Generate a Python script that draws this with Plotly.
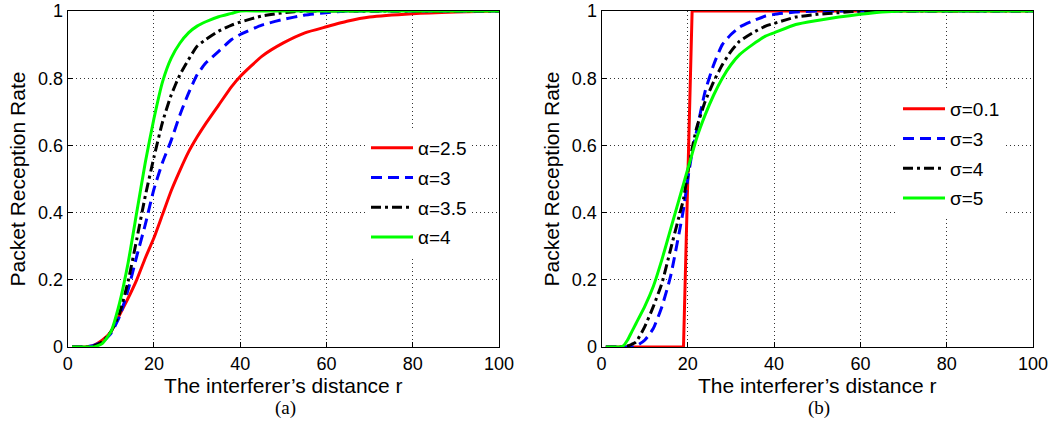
import plotly.graph_objects as go

# ---------------- data ----------------
r_a = [1, 4, 6, 8, 10, 12, 14, 16, 18, 20, 22, 24, 26, 28, 30, 32, 35, 38, 40, 45, 50, 55, 60, 65, 70, 80, 90, 100]
alpha_25 = [0, 0, 0.005, 0.02, 0.045, 0.095, 0.145, 0.20, 0.265, 0.325, 0.395, 0.465, 0.525, 0.58, 0.625, 0.665, 0.72, 0.775, 0.805, 0.865, 0.905, 0.935, 0.953, 0.97, 0.982, 0.992, 0.997, 1]
alpha_3 = [0, 0, 0.005, 0.015, 0.04, 0.09, 0.17, 0.27, 0.365, 0.47, 0.55, 0.615, 0.69, 0.755, 0.81, 0.845, 0.88, 0.915, 0.93, 0.958, 0.975, 0.988, 0.995, 1, 1, 1, 1, 1]
alpha_35 = [0, 0, 0.003, 0.015, 0.045, 0.10, 0.195, 0.32, 0.45, 0.565, 0.67, 0.75, 0.81, 0.855, 0.895, 0.915, 0.94, 0.958, 0.967, 0.985, 0.995, 1, 1, 1, 1, 1, 1, 1]
alpha_4 = [0, 0, 0, 0.01, 0.045, 0.13, 0.25, 0.40, 0.55, 0.68, 0.79, 0.86, 0.904, 0.935, 0.955, 0.968, 0.983, 0.993, 1, 1, 1, 1, 1, 1, 1, 1, 1, 1]

r_b = [1, 4, 5, 6, 7, 8, 10, 12, 14, 16, 18, 19, 20, 21, 22, 24, 26, 28, 30, 32, 35, 38, 40, 45, 50, 55, 60, 65, 70, 80, 90, 100]
sigma_01 = [0, 0, 0, 0, 0, 0, 0, 0, 0, 0, 0, 0, 0.5, 1, 1, 1, 1, 1, 1, 1, 1, 1, 1, 1, 1, 1, 1, 1, 1, 1, 1, 1]
sigma_3 = [0, 0, 0, 0, 0, 0.003, 0.02, 0.055, 0.12, 0.21, 0.34, 0.41, 0.50, 0.58, 0.64, 0.76, 0.84, 0.90, 0.93, 0.952, 0.97, 0.985, 0.99, 0.997, 1, 1, 1, 1, 1, 1, 1, 1]
sigma_4 = [0, 0, 0, 0.003, 0.008, 0.015, 0.06, 0.12, 0.19, 0.29, 0.39, 0.44, 0.52, 0.59, 0.65, 0.73, 0.79, 0.84, 0.88, 0.91, 0.935, 0.955, 0.963, 0.982, 0.99, 0.995, 1, 1, 1, 1, 1, 1]
sigma_5 = [0, 0, 0.003, 0.02, 0.045, 0.07, 0.12, 0.18, 0.26, 0.35, 0.44, 0.485, 0.53, 0.575, 0.62, 0.69, 0.75, 0.80, 0.84, 0.87, 0.90, 0.925, 0.935, 0.96, 0.972, 0.982, 0.99, 0.997, 1, 1, 1, 1]

labels_a = ["α=2.5", "α=3", "α=3.5", "α=4"]
labels_b = ["σ=0.1", "σ=3", "σ=4", "σ=5"]
x_ticks = [0, 20, 40, 60, 80, 100]
y_ticks = [0, 0.2, 0.4, 0.6, 0.8, 1]
y_tick_text = ["0", "0.2", "0.4", "0.6", "0.8", "1"]
captions = ["(a)", "(b)"]
x_title = "The interferer’s distance r"
y_title = "Packet Reception Rate"

colors = ["#ff0000", "#0000ff", "#000000", "#00ff00"]
dashes = ["solid", "11px,6px", "10px,4px,3px,4px", "solid"]

fig = go.Figure()
series_a = [alpha_25, alpha_3, alpha_35, alpha_4]
series_b = [sigma_01, sigma_3, sigma_4, sigma_5]
for i, (ys, name) in enumerate(zip(series_a, labels_a)):
    fig.add_trace(go.Scatter(x=r_a, y=ys, name=name, mode="lines",
                             line=dict(color=colors[i], dash=dashes[i], width=3, shape="spline", smoothing=0.5),
                             xaxis="x", yaxis="y", legend="legend", legendgroup="a%d" % i))
for i, (ys, name) in enumerate(zip(series_b, labels_b)):
    shape = "linear" if i == 0 else "spline"
    fig.add_trace(go.Scatter(x=r_b, y=ys, name=name, mode="lines",
                             line=dict(color=colors[i], dash=dashes[i], width=3, shape=shape, smoothing=0.5),
                             xaxis="x2", yaxis="y2", legend="legend2", legendgroup="b%d" % i))

W, H = 1050, 421
def fx(px):
    return px / W
def fy(py):
    return (H - py) / H

font_fam = "Liberation Sans, Arial, sans-serif"
axis_common = dict(
    showline=True, linecolor="black", linewidth=1, mirror=True,
    ticks="inside", ticklen=5, tickcolor="black",
    showgrid=True, gridcolor="#333333", griddash="1px,3px", gridwidth=1,
    zeroline=False, automargin=False,
    tickfont=dict(size=18, color="black", family=font_fam),
)
ydom = [fy(347), fy(11)]
fig.update_layout(
    width=W, height=H,
    margin=dict(l=0, r=0, t=0, b=0),
    paper_bgcolor="white", plot_bgcolor="white",
    font=dict(family=font_fam, color="black"),
    xaxis=dict(domain=[fx(67.7), fx(499)], range=[0, 100], tickvals=x_ticks, anchor="y",
               title=dict(text=x_title, font=dict(size=21), standoff=0), **axis_common),
    yaxis=dict(domain=ydom, range=[0, 1], tickvals=y_ticks, ticktext=y_tick_text, anchor="x",
               title=dict(text=y_title, font=dict(size=21), standoff=6), **axis_common),
    xaxis2=dict(domain=[fx(601.5), fx(1033)], range=[0, 100], tickvals=x_ticks, anchor="y2",
                title=dict(text=x_title, font=dict(size=21), standoff=0), **axis_common),
    yaxis2=dict(domain=ydom, range=[0, 1], tickvals=y_ticks, ticktext=y_tick_text, anchor="x2",
                title=dict(text=y_title, font=dict(size=21), standoff=6), **axis_common),
    legend=dict(x=fx(366), y=fy(129), xanchor="left", yanchor="top", bgcolor="white",
                borderwidth=0, font=dict(size=19), itemwidth=42, tracegroupgap=2,
                traceorder="grouped"),
    legend2=dict(x=fx(898), y=fy(90), xanchor="left", yanchor="top", bgcolor="white",
                 borderwidth=0, font=dict(size=19), itemwidth=42, tracegroupgap=2,
                 traceorder="grouped"),
    showlegend=True,
)
for cap, cx in zip(captions, [fx(285), fx(819)]):
    fig.add_annotation(text=cap, x=cx, y=fy(408), xref="paper", yref="paper",
                       showarrow=False, font=dict(size=19, family="Liberation Serif, Times New Roman, serif"),
                       xanchor="center", yanchor="middle")

fig.write_html("out.html", config={"displayModeBar": False},
               post_script="document.body.style.margin='0px';document.body.style.padding='0px';document.body.style.overflow='hidden';")
